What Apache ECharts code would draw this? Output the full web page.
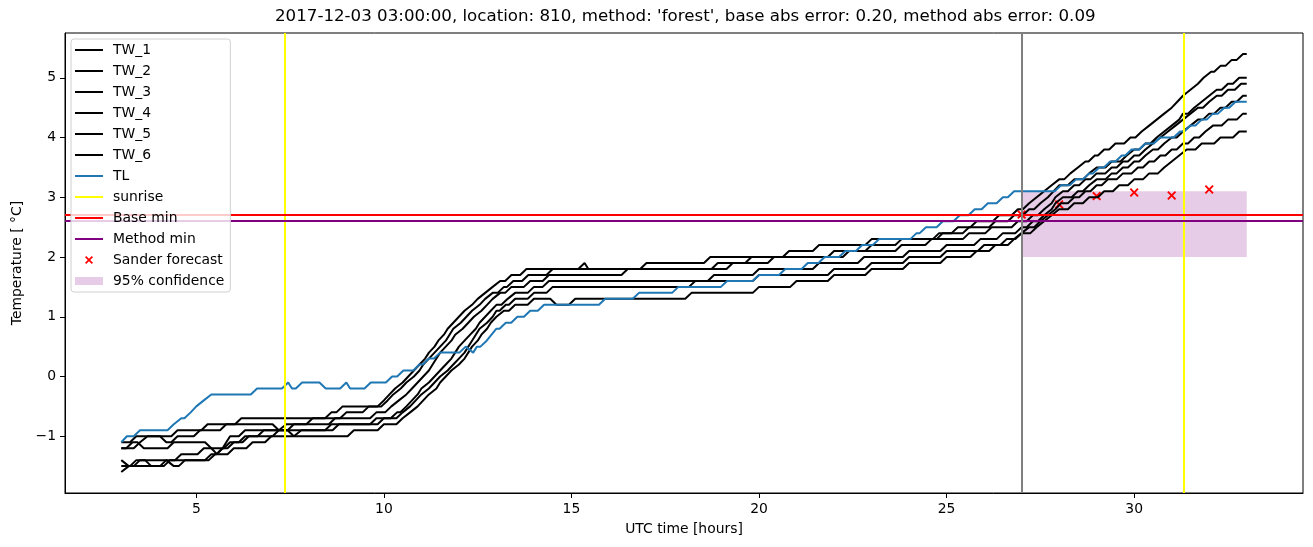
<!DOCTYPE html>
<html>
<head>
<meta charset="utf-8">
<script src="https://cdn.jsdelivr.net/npm/echarts@6/dist/echarts.min.js"></script>
<style>
  html, body { margin: 0; padding: 0; background: #fff; }
  #main { width: 1313px; height: 547px; }
</style>
</head>
<body>
<div id="main"></div>
<script>
// each entry: [hour where the reading starts, temperature held until the next entry]
const TW_1 = [[3,-1.1],[3.4,-1.0],[4.5,-0.9],[5.3,-0.8],[6.2,-0.7],[8.6,-0.6],[8.9,-0.5],[10.0,-0.4],[10.15,-0.3],[10.3,-0.2],[10.5,-0.1],[10.65,0.0],[10.8,0.1],[10.95,0.2],[11.1,0.3],[11.2,0.4],[11.35,0.5],[11.45,0.6],[11.6,0.7],[11.7,0.8],[11.85,0.9],[12.0,1.0],[12.15,1.1],[12.35,1.2],[12.5,1.3],[12.7,1.4],[12.9,1.5],[13.1,1.6],[13.4,1.7],[13.8,1.8],[15.35,1.9],[15.45,1.8],[17.0,1.9],[18.7,2.0],[20.8,2.1],[21.6,2.2],[23.0,2.3],[24.8,2.4],[25.3,2.5],[25.8,2.6],[26.4,2.7],[26.9,2.8],[27.2,2.9],[27.4,3.0],[27.6,3.1],[27.8,3.2],[28.0,3.3],[28.3,3.4],[28.5,3.5],[28.7,3.6],[28.95,3.7],[29.2,3.8],[29.5,3.9],[29.9,4.0],[30.2,4.1],[30.4,4.2],[30.6,4.3],[30.8,4.4],[31.0,4.5],[31.15,4.6],[31.3,4.7],[31.5,4.8],[31.7,4.9],[31.85,5.0],[32.05,5.1],[32.3,5.2],[32.6,5.3],[32.9,5.4]];
const TW_2 = [[3,-1.2],[3.5,-1.1],[3.7,-1.0],[4.2,-1.1],[4.5,-1.0],[5.1,-0.9],[5.8,-0.8],[7.2,-0.9],[7.4,-0.8],[8.1,-0.7],[9.0,-0.6],[9.6,-0.5],[10.1,-0.4],[10.25,-0.3],[10.45,-0.2],[10.6,-0.1],[10.8,0.0],[10.95,0.1],[11.05,0.2],[11.2,0.3],[11.35,0.4],[11.5,0.5],[11.65,0.6],[11.75,0.7],[11.85,0.8],[12.05,0.9],[12.2,1.0],[12.35,1.1],[12.55,1.2],[12.7,1.3],[12.9,1.4],[13.2,1.5],[13.45,1.6],[13.85,1.7],[14.5,1.8],[18.9,1.9],[19.8,2.0],[22.0,2.1],[23.0,2.2],[23.8,2.3],[24.9,2.4],[25.6,2.5],[26.3,2.6],[26.8,2.7],[27.2,2.8],[27.5,2.9],[27.7,3.0],[27.85,3.1],[28.0,3.2],[28.4,3.3],[28.8,3.4],[29.0,3.5],[29.4,3.6],[29.8,3.7],[30.0,3.8],[30.3,3.9],[30.6,4.0],[30.8,4.1],[31.0,4.2],[31.2,4.3],[31.3,4.4],[31.6,4.5],[31.8,4.6],[32.0,4.7],[32.2,4.8],[32.5,4.9],[32.8,5.0]];
const TW_3 = [[3,-1.2],[3.3,-1.1],[3.6,-1.2],[4.4,-1.1],[5.4,-1.2],[5.55,-1.3],[5.7,-1.2],[5.8,-1.1],[5.9,-1.0],[6.3,-0.9],[7.6,-0.8],[8.7,-0.7],[9.8,-0.6],[10.2,-0.5],[10.4,-0.4],[10.6,-0.3],[10.75,-0.2],[10.9,-0.1],[11.05,0.0],[11.2,0.1],[11.3,0.2],[11.4,0.3],[11.5,0.4],[11.65,0.5],[11.8,0.6],[11.9,0.7],[12.1,0.8],[12.25,0.9],[12.4,1.0],[12.6,1.1],[12.75,1.2],[12.9,1.3],[13.1,1.4],[13.4,1.5],[13.9,1.6],[14.4,1.7],[16.5,1.8],[19.3,1.9],[20.4,2.0],[22.4,2.1],[23.8,2.2],[24.6,2.3],[25.6,2.4],[26.2,2.5],[26.9,2.6],[27.3,2.7],[27.6,2.8],[27.8,2.9],[27.9,3.0],[28.1,3.1],[28.4,3.2],[28.7,3.3],[29.0,3.4],[29.4,3.5],[29.7,3.6],[30.0,3.7],[30.3,3.8],[30.5,3.9],[30.7,4.0],[30.9,4.1],[31.1,4.2],[31.3,4.3],[31.5,4.4],[31.7,4.5],[32.0,4.6],[32.2,4.7],[32.5,4.8],[32.85,4.9]];
const TW_4 = [[3,-1.4],[3.2,-1.5],[3.5,-1.4],[4.6,-1.3],[5.2,-1.2],[5.9,-1.1],[6.3,-1.0],[6.8,-0.9],[7.6,-1.0],[7.8,-0.9],[8.6,-0.8],[9.8,-0.7],[10.35,-0.6],[10.6,-0.5],[10.75,-0.4],[10.9,-0.3],[11.0,-0.2],[11.2,-0.1],[11.35,0.0],[11.5,0.1],[11.65,0.2],[11.8,0.3],[11.9,0.4],[12.0,0.5],[12.15,0.6],[12.3,0.7],[12.45,0.8],[12.55,0.9],[12.7,1.0],[12.85,1.1],[13.0,1.2],[13.3,1.3],[13.5,1.4],[14.0,1.5],[14.4,1.6],[18.8,1.7],[20.0,1.8],[21.6,1.9],[22.8,2.0],[24.0,2.1],[25.0,2.2],[25.9,2.3],[26.5,2.4],[27.0,2.5],[27.3,2.6],[27.6,2.7],[27.8,2.8],[27.9,2.9],[28.1,3.0],[28.5,3.1],[28.8,3.2],[29.0,3.3],[29.4,3.4],[29.7,3.5],[30.0,3.6],[30.3,3.7],[30.5,3.8],[30.8,3.9],[31.0,4.0],[31.3,4.1],[31.5,4.2],[31.7,4.3],[32.0,4.4],[32.3,4.5],[32.6,4.6],[32.9,4.7]];
const TW_5 = [[3,-1.5],[3.4,-1.4],[3.8,-1.5],[4.3,-1.4],[5.4,-1.3],[5.7,-1.2],[6.0,-1.1],[6.4,-1.0],[7.2,-0.9],[8.8,-0.8],[10.0,-0.7],[10.5,-0.6],[10.7,-0.5],[10.85,-0.4],[11.0,-0.3],[11.2,-0.2],[11.35,-0.1],[11.5,0.0],[11.7,0.1],[11.85,0.2],[12.0,0.3],[12.15,0.4],[12.25,0.5],[12.35,0.6],[12.45,0.7],[12.55,0.8],[12.75,0.9],[12.9,1.0],[13.0,1.1],[13.25,1.2],[13.5,1.3],[14.0,1.4],[14.5,1.5],[18.3,1.6],[20.0,1.7],[22.0,1.8],[23.0,1.9],[24.0,2.0],[25.0,2.1],[26.0,2.2],[26.6,2.3],[27.0,2.4],[27.2,2.5],[27.5,2.6],[27.7,2.7],[27.9,2.8],[28.05,2.9],[28.4,3.0],[28.7,3.1],[29.0,3.2],[29.3,3.3],[29.7,3.4],[30.1,3.5],[30.4,3.6],[30.7,3.7],[31.0,3.8],[31.3,3.9],[31.6,4.0],[31.9,4.1],[32.1,4.2],[32.5,4.3],[32.9,4.4]];
const TW_6 = [[3,-1.6],[3.2,-1.5],[4.2,-1.4],[4.4,-1.5],[4.7,-1.4],[5.5,-1.3],[6.0,-1.2],[6.5,-1.1],[7.0,-1.0],[9.2,-0.9],[10.0,-0.8],[10.5,-0.7],[10.7,-0.6],[10.9,-0.5],[11.05,-0.4],[11.2,-0.3],[11.4,-0.2],[11.5,-0.1],[11.65,0.0],[11.8,0.1],[12.0,0.2],[12.15,0.3],[12.25,0.4],[12.35,0.5],[12.5,0.6],[12.6,0.7],[12.75,0.8],[12.85,0.9],[13.0,1.0],[13.2,1.1],[13.5,1.2],[14.0,1.3],[14.6,1.2],[15.1,1.3],[18.2,1.4],[20.0,1.5],[21.0,1.6],[22.0,1.7],[23.0,1.8],[24.0,1.9],[25.0,2.0],[25.8,2.1],[26.3,2.2],[26.8,2.3],[27.0,2.4],[27.4,2.5],[27.6,2.6],[27.8,2.7],[28.0,2.8],[28.4,2.9],[28.8,3.0],[29.2,3.1],[29.6,3.2],[30.0,3.3],[30.4,3.4],[30.8,3.5],[31.0,3.6],[31.2,3.7],[31.4,3.8],[31.8,3.9],[32.3,4.0],[32.8,4.1]];
const TL = [[3,-1.1],[3.15,-1.0],[3.5,-0.9],[4.4,-0.8],[4.6,-0.7],[4.85,-0.6],[5.0,-0.5],[5.2,-0.4],[5.4,-0.3],[6.62,-0.2],[7.45,-0.1],[7.55,-0.2],[7.82,-0.1],[8.45,-0.2],[9.0,-0.1],[9.1,-0.2],[9.65,-0.1],[10.22,0.0],[10.52,0.1],[10.95,0.2],[11.2,0.3],[11.5,0.4],[12.18,0.5],[12.38,0.4],[12.48,0.5],[12.74,0.6],[12.87,0.7],[13.0,0.8],[13.25,0.9],[13.56,1.0],[13.9,1.1],[14.27,1.2],[15.9,1.3],[16.8,1.4],[17.85,1.5],[19.15,1.6],[20.0,1.7],[20.7,1.8],[21.3,1.9],[21.75,2.0],[22.3,2.1],[22.75,2.2],[23.2,2.3],[24.2,2.4],[24.45,2.5],[24.9,2.6],[25.35,2.7],[25.75,2.8],[26.1,2.9],[26.5,3.0],[26.8,3.1],[28.05,3.2],[28.45,3.3],[28.8,3.4],[29.07,3.5],[29.36,3.6],[29.67,3.7],[29.93,3.8],[30.3,3.9],[30.69,4.0],[31.22,4.1],[31.5,4.2],[31.8,4.3],[32.1,4.4],[32.4,4.5],[32.7,4.6]];
const END_T = 33;

const sunriseHours = [7.35, 31.33];
const baseMin = 2.71;
const methodMin = 2.61;
const forecastStart = 27;
const forecastHours = [27, 28, 29, 30, 31, 32];
const sanderForecast = [2.71, 2.88, 3.02, 3.08, 3.03, 3.13];
const confLow = 2.0;
const confHigh = 3.1;

const xTicks = [5, 10, 15, 20, 25, 30];
const yTicks = [-1, 0, 1, 2, 3, 4, 5];

// readings are 10 minutes apart, so each change takes one sample step
const stepLen = 1 / 6;
function toPoints(steps) {
  const pts = [];
  for (let i = 0; i < steps.length; i++) {
    const t = steps[i][0], v = steps[i][1];
    pts.push([t, v]);
    const tEnd = i + 1 < steps.length ? steps[i + 1][0] - stepLen : END_T;
    if (tEnd > t) pts.push([tEnd, v]);
  }
  return pts;
}

const FONT = "DejaVu Sans";
const chart = echarts.init(document.getElementById("main"), null, { renderer: "canvas" });

const twSeries = [TW_1, TW_2, TW_3, TW_4, TW_5, TW_6].map((d, i) => ({
  name: "TW_" + (i + 1),
  type: "line",
  data: toPoints(d),
  symbol: "none",
  color: "#000",
  lineStyle: { color: "#000", width: 2 },
  silent: true,
}));

const xPath = "path://M0,1.5L1.5,0L5,3.5L8.5,0L10,1.5L6.5,5L10,8.5L8.5,10L5,6.5L1.5,10L0,8.5L3.5,5Z";
const linePath = "path://M0,0h28v2h-28z";
const confColor = "rgba(128,0,128,0.2)";

const option = {
  animation: false,
  graphic: [{
    type: "text",
    left: 275,
    top: 8,
    style: {
      text: "2017-12-03 03:00:00, location: 810, method: 'forest', base abs error: 0.20, method abs error: 0.09",
      font: "16.67px " + FONT,
      fill: "#000",
    },
  }],
  grid: {
    left: 65, right: 10, top: 33, bottom: 54,
    show: true, borderColor: "#000", borderWidth: 1, backgroundColor: "transparent",
  },
  legend: {
    orient: "vertical",
    left: 71, top: 39,
    z: 20, zlevel: 1,
    padding: [4, 6, 4, 4],
    itemWidth: 28, itemHeight: 8, itemGap: 7,
    backgroundColor: "rgba(255,255,255,0.8)",
    borderColor: "#d0d0d0", borderWidth: 1, borderRadius: 3,
    textStyle: { fontFamily: FONT, fontSize: 13.9, color: "#000", padding: [0, 0, 0, 5] },
    selectedMode: false,
    data: [
      { name: "TW_1", icon: linePath }, { name: "TW_2", icon: linePath },
      { name: "TW_3", icon: linePath }, { name: "TW_4", icon: linePath },
      { name: "TW_5", icon: linePath }, { name: "TW_6", icon: linePath },
      { name: "TL", icon: linePath }, { name: "sunrise", icon: linePath },
      { name: "Base min", icon: linePath }, { name: "Method min", icon: linePath },
      { name: "Sander forecast", icon: xPath },
      { name: "95% confidence", icon: "path://M0,0h35v10h-35z" },
    ],
  },
  xAxis: {
    type: "value",
    min: 1.5, max: 34.5,
    name: "UTC time [hours]",
    nameLocation: "middle", nameGap: 29,
    nameTextStyle: { fontFamily: FONT, fontSize: 13.9, color: "#000" },
    axisLine: { show: true, onZero: false, lineStyle: { color: "#000", width: 1 } },
    axisTick: { show: true, length: 5, lineStyle: { color: "#000" }, customValues: xTicks },
    axisLabel: { fontFamily: FONT, fontSize: 13.9, color: "#000", margin: 9, customValues: xTicks },
    splitLine: { show: false },
  },
  yAxis: {
    type: "value",
    min: -1.95, max: 5.75,
    name: "Temperature [ °C]",
    nameLocation: "middle", nameGap: 40,
    nameTextStyle: { fontFamily: FONT, fontSize: 13.9, color: "#000" },
    axisLine: { show: true, onZero: false, lineStyle: { color: "#000", width: 1 } },
    axisTick: { show: true, length: 5, lineStyle: { color: "#000" }, customValues: yTicks },
    axisLabel: {
      fontFamily: FONT, fontSize: 13.9, color: "#000", margin: 9, customValues: yTicks,
      formatter: (v) => String(v).replace("-", "\u2212"),
    },
    splitLine: { show: false },
  },
  series: [
    ...twSeries,
    {
      name: "TL", type: "line", data: toPoints(TL), symbol: "none",
      color: "#1f77b4", lineStyle: { color: "#1f77b4", width: 2 }, silent: true,
    },
    {
      name: "sunrise", type: "line", data: [], symbol: "none",
      color: "#ffff00", lineStyle: { color: "#ffff00", width: 2 },
      markLine: {
        silent: true, symbol: ["none", "none"], label: { show: false },
        lineStyle: { color: "#ffff00", width: 2, type: "solid" },
        data: sunriseHours.map((h) => ({ xAxis: h })),
      },
    },
    {
      name: "Base min", type: "line", data: [], symbol: "none",
      color: "#ff0000", lineStyle: { color: "#ff0000", width: 2 },
      markLine: {
        silent: true, symbol: ["none", "none"], label: { show: false },
        lineStyle: { color: "#ff0000", width: 2, type: "solid" },
        data: [{ yAxis: baseMin }],
      },
    },
    {
      name: "Method min", type: "line", data: [], symbol: "none",
      color: "#800080", lineStyle: { color: "#800080", width: 2 },
      markLine: {
        silent: true, symbol: ["none", "none"], label: { show: false },
        lineStyle: { color: "#800080", width: 2, type: "solid" },
        data: [{ yAxis: methodMin }],
      },
    },
    {
      name: "forecast start", type: "line", data: [], symbol: "none",
      markLine: {
        silent: true, symbol: ["none", "none"], label: { show: false },
        lineStyle: { color: "#808080", width: 2, type: "solid" },
        data: [{ xAxis: forecastStart }],
      },
    },
    {
      name: "Sander forecast", type: "scatter",
      data: forecastHours.map((h, i) => [h, sanderForecast[i]]),
      symbol: xPath, symbolSize: 9,
      color: "#ff0000", itemStyle: { color: "#ff0000", opacity: 1 }, silent: true,
    },
    {
      name: "95% confidence", type: "line", data: [], symbol: "none",
      color: confColor, itemStyle: { color: confColor }, lineStyle: { color: confColor },
      markArea: {
        silent: true,
        itemStyle: { color: confColor },
        data: [[{ xAxis: forecastStart, yAxis: confLow }, { xAxis: END_T, yAxis: confHigh }]],
      },
    },
  ],
};

chart.setOption(option);
</script>
</body>
</html>
